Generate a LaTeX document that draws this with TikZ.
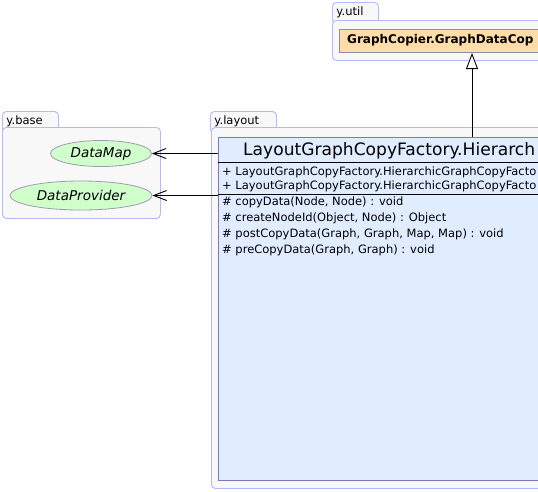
\documentclass[tikz,border=0pt]{standalone}
\usepackage{fontspec}
\setmainfont{DejaVu Sans}
\usepackage{xcolor}
\usetikzlibrary{shapes.geometric, arrows.meta, positioning}
\definecolor{pkgline}{RGB}{176,186,255}
\definecolor{pkgfill}{RGB}{248,248,248}
\definecolor{clsfill}{RGB}{224,236,255}
\definecolor{clsline}{RGB}{122,122,184}
\definecolor{ifcfill}{RGB}{255,220,168}
\definecolor{ifcline}{RGB}{140,140,180}
\definecolor{ovalfill}{RGB}{208,255,204}
\definecolor{ovalline}{RGB}{156,156,172}

\begin{document}
\begin{tikzpicture}[x=1pt, y=-1pt,
  pkgtab/.style={draw=pkgline, fill=pkgfill, line width=0.9pt, rounded corners=4pt, anchor=north west, inner ysep=0pt, inner xsep=4pt, align=left, text height=13pt, text depth=9pt, font=\fontsize{11.5}{11.5}\selectfont},
  pkgbody/.style={draw=pkgline, fill=pkgfill, line width=0.9pt, rounded corners=4pt, anchor=north west, inner sep=0pt},
  cls/.style={draw=clsline, fill=clsfill, line width=1.2pt, anchor=north west, inner sep=0pt},
  member/.style={anchor=base west, inner sep=0pt, font=\fontsize{11.5}{11.5}\selectfont},
  oval/.style={ellipse, draw=ovalline, fill=ovalfill, line width=0.8pt, inner sep=0pt, font=\fontsize{13.5}{13.5}\selectfont\itshape},
  uses/.style={draw, line width=0.9pt, -{Straight Barb[length=13pt, width=10pt, line width=0.9pt]}},
  inherit/.style={draw, line width=0.9pt, -{Triangle[open, length=16pt, width=12pt, line width=0.9pt, fill=white]}}]
\useasboundingbox (0,0) rectangle (538,491);
\clip (0,0) rectangle (538,491);

\node[pkgtab, text width=38pt] (utiltab) at (332,2) {y.util};
\node[pkgbody, minimum width=260pt, minimum height=40pt] (utilpkg) at (332,20) {};
\node[draw=ifcline, fill=ifcfill, line width=1pt, anchor=north west, inner sep=0pt, minimum width=260pt, minimum height=23pt] (copier) at (339,29) {};
\node[anchor=west, inner sep=0pt, font=\fontsize{12}{12}\selectfont\bfseries] (copiername) at (347,40.5) {GraphCopier.GraphDataCop};

\node[pkgtab, text width=48pt] (basetab) at (2,111) {y.base};
\node[pkgbody, minimum width=158pt, minimum height=91pt] (basepkg) at (2,127) {};
\node[oval, minimum width=101pt, minimum height=26pt] (dmap) at (101,153.5) {DataMap};
\node[oval, minimum width=142pt, minimum height=29pt] (dprov) at (81,195.5) {DataProvider};

\node[pkgtab, text width=58pt] (layouttab) at (210,111) {y.layout};
\node[pkgbody, minimum width=400pt, minimum height=361pt] (layoutpkg) at (211,127) {};
\node[cls, minimum width=400pt, minimum height=343pt] (hier) at (218,137) {};
\node[anchor=base west, inner sep=0pt, font=\fontsize{17.1}{17.1}\selectfont] (title) at (243,155) {LayoutGraphCopyFactory.Hierarch};
\draw[line width=1pt] (hier.west |- 0,162.5) -- (hier.east |- 0,162.5);
\node[member] (ctor1) at (222,175) {+ LayoutGraphCopyFactory.HierarchicGraphCopyFacto};
\node[member] (ctor2) at (222,189) {+ LayoutGraphCopyFactory.HierarchicGraphCopyFacto};
\draw[line width=1pt] (hier.west |- 0,194) -- (hier.east |- 0,194);
\node[member] (m1) at (222,205.7) {\# copyData(Node, Node) : void};
\node[member] (m2) at (222,221.7) {\# createNodeId(Object, Node) : Object};
\node[member] (m3) at (222,237.7) {\# postCopyData(Graph, Graph, Map, Map) : void};
\node[member] (m4) at (222,253.3) {\# preCopyData(Graph, Graph) : void};

\coordinate (ihx) at (472,100);
\draw[inherit] (ihx |- hier.north) -- (ihx |- copier.south);
\draw[uses] (hier.west |- dmap.east) -- (dmap.east);
\draw[uses] (hier.west |- dprov.east) -- (dprov.east);
\end{tikzpicture}
\end{document}
